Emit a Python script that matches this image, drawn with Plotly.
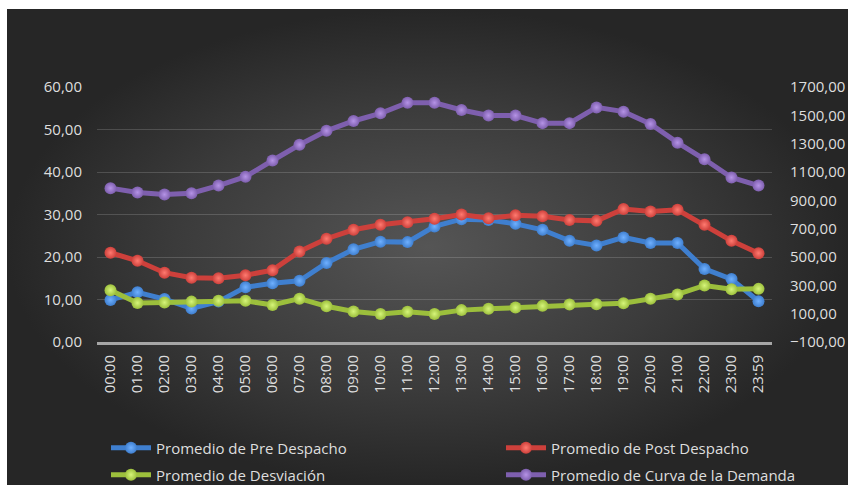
import plotly.graph_objects as go

hours = ["00:00", "01:00", "02:00", "03:00", "04:00", "05:00", "06:00", "07:00",
         "08:00", "09:00", "10:00", "11:00", "12:00", "13:00", "14:00", "15:00",
         "16:00", "17:00", "18:00", "19:00", "20:00", "21:00", "22:00", "23:00", "23:59"]

pre_despacho = [9.9, 11.7, 10.1, 7.9, 9.5, 12.9, 13.8, 14.4, 18.6, 21.8, 23.6, 23.5,
                27.2, 28.9, 28.7, 27.8, 26.4, 23.8, 22.7, 24.6, 23.3, 23.3, 17.2, 14.8, 9.6]
post_despacho = [21.0, 19.1, 16.3, 15.1, 15.0, 15.7, 16.9, 21.3, 24.3, 26.4, 27.6, 28.2,
                 29.0, 30.0, 29.1, 29.8, 29.6, 28.7, 28.5, 31.3, 30.7, 31.1, 27.6, 23.8, 20.9]
desviacion = [12.2, 9.2, 9.3, 9.5, 9.7, 9.7, 8.7, 10.2, 8.4, 7.2, 6.6, 7.1,
              6.6, 7.5, 7.8, 8.1, 8.5, 8.8, 8.9, 9.1, 10.2, 11.2, 13.3, 12.4, 12.5]
demanda = [986, 956, 941, 950, 1004, 1067, 1181, 1292, 1391, 1460, 1514, 1589,
           1589, 1538, 1499, 1499, 1445, 1445, 1556, 1526, 1439, 1307, 1190, 1061, 1004]

left_ticks = [0, 10, 20, 30, 40, 50, 60]
right_ticks = [-100, 100, 300, 500, 700, 900, 1100, 1300, 1500, 1700]

W, H = 848, 485
TXT = "#dedede"
FONT = "Open Sans"
FS = 15

fig = go.Figure()

# background radial gradient panel (decoration)
fig.add_trace(go.Scatter(
    x=[0, 1, 1, 0, 0], y=[0, 0, 1, 1, 0], xaxis="x", yaxis="y",
    mode="lines", fill="toself", line=dict(width=0),
    fillgradient=dict(type="radial", colorscale=[[0, "#555555"], [0.6, "#3b3b3b"], [1, "#262626"]]),
    hoverinfo="skip", showlegend=False))

series = [
    ("Promedio de Pre Despacho", pre_despacho, "#3f7fcf", "#6fb0ff", "y2", "legend"),
    ("Promedio de Post Despacho", post_despacho, "#cd403b", "#ff7a70", "y2", "legend2"),
    ("Promedio de Desviación", desviacion, "#9cbf3c", "#d6f57a", "y2", "legend3"),
    ("Promedio de Curva de la Demanda", demanda, "#7e5fae", "#b593e6", "y3", "legend4"),
]
for name, vals, col, light, yax, leg in series:
    fig.add_trace(go.Scatter(
        x=hours, y=vals, name=name, xaxis="x2", yaxis=yax, legend=leg,
        mode="lines+markers",
        line=dict(color=col, width=5),
        marker=dict(size=12, color=col, line=dict(width=0),
                    gradient=dict(type="radial", color=light)),
    ))

def px(x):
    return x / W

def py(y):
    return (H - y) / H

legend_common = dict(bgcolor="rgba(0,0,0,0)", font=dict(family=FONT, size=FS, color=TXT),
                     xanchor="left", yanchor="middle", itemwidth=40)

fig.update_layout(
    width=W, height=H,
    margin=dict(l=0, r=0, t=0, b=0, autoexpand=False),
    paper_bgcolor="white", plot_bgcolor="rgba(0,0,0,0)",
    separators=",.",
    font=dict(family=FONT, size=FS, color=TXT),
    template="none",
    xaxis=dict(domain=[px(7), 1], range=[0, 1], visible=False, fixedrange=True),
    yaxis=dict(domain=[0, py(9)], range=[0, 1], visible=False, fixedrange=True),
    xaxis2=dict(domain=[px(97), px(772)], anchor="y2", type="category", range=[-0.5, 24.5],
                tickangle=-90, tickfont=dict(family=FONT, size=FS, color=TXT),
                showgrid=False, zeroline=False, showline=True, linecolor="#a6a6a6",
                linewidth=3, ticks="", ticklabelstandoff=4),
    yaxis2=dict(domain=[py(342), py(87)], anchor="x2", range=[0, 60], tickvals=left_ticks,
                tickformat=".2f", showgrid=True, gridcolor="rgba(255,255,255,0.16)",
                gridwidth=1, zeroline=False, showline=False, ticks="",
                tickfont=dict(family=FONT, size=FS, color=TXT), ticklabelstandoff=14),
    yaxis3=dict(overlaying="y2", anchor="x2", side="right", range=[-100, 1700],
                tickvals=right_ticks, tickformat=".2f", showgrid=False, zeroline=False,
                showline=False, ticks="", tickfont=dict(family=FONT, size=FS, color=TXT),
                ticklabelstandoff=17),
    legend=dict(x=px(106), y=py(448), **legend_common),
    legend2=dict(x=px(501), y=py(448), **legend_common),
    legend3=dict(x=px(106), y=py(475), **legend_common),
    legend4=dict(x=px(501), y=py(475), **legend_common),
)

fig.write_html("out.html", config={"displayModeBar": False},
               post_script="document.body.style.margin='0px';document.body.style.overflow='hidden';")
